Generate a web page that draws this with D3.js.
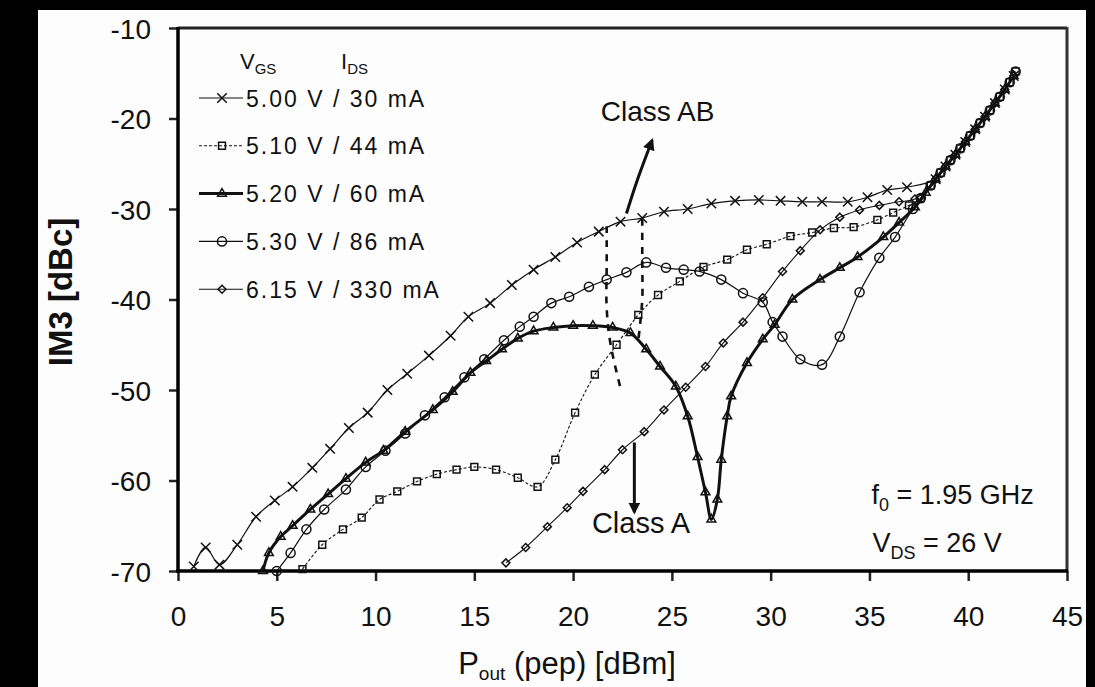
<!DOCTYPE html>
<html><head><meta charset="utf-8">
<script src="https://cdn.jsdelivr.net/npm/d3@7"></script>
<style>
html,body{margin:0;padding:0;background:#000;}
svg{display:block;}
text{font-family:"Liberation Sans",Arial,sans-serif;fill:#111;}
</style></head>
<body>
<svg id="chart" width="1095" height="687"></svg>
<script>
// ---------- data ----------
const xTicks = [0,5,10,15,20,25,30,35,40,45];
const yTicks = [-10,-20,-30,-40,-50,-60,-70];
const seriesNames = ["5.00 V / 30 mA","5.10 V / 44 mA","5.20 V / 60 mA","5.30 V / 86 mA","6.15 V / 330 mA"];

const tailA = [[37.6,-28.8],[38.1,-27.4],[38.6,-26.0],[39.1,-24.6],[39.6,-23.3],[40.1,-21.9],[40.6,-20.5],[41.1,-19.1],[41.6,-17.6],[42.1,-16.0],[42.4,-14.8]];
const tailB = [[37.85,-28.2],[38.35,-26.7],[38.85,-25.3],[39.35,-24.0],[39.85,-22.6],[40.35,-21.2],[40.85,-19.8],[41.35,-18.3],[41.85,-16.8],[42.3,-15.3]];

const s500 = [[0.8,-69.5],[1.4,-67.4],[2.1,-69.3],[3.0,-67.1],[3.95,-64.0],[4.9,-62.2],[5.8,-60.7],[6.8,-58.6],[7.7,-56.5],[8.65,-54.2],[9.6,-52.5],[10.6,-50.0],[11.6,-48.2],[12.7,-46.2],[13.8,-44.0],[14.7,-41.9],[15.8,-40.4],[16.9,-38.4],[18.0,-36.7],[19.1,-35.3],[20.2,-33.7],[21.3,-32.5],[22.4,-31.4],[23.5,-31.0],[24.6,-30.3],[25.8,-30.0],[27.0,-29.4],[28.2,-29.1],[29.4,-29.0],[30.5,-29.1],[31.6,-29.2],[32.6,-29.2],[33.9,-29.2],[34.9,-28.7],[35.9,-27.9],[36.9,-27.6]].concat(tailB.slice(1));
const s510 = [[6.3,-69.8],[7.3,-67.1],[8.35,-65.4],[9.3,-64.1],[10.2,-62.1],[11.1,-61.2],[12.1,-60.1],[13.1,-59.3],[14.1,-58.8],[15.0,-58.5],[16.1,-58.8],[17.2,-59.7],[18.2,-60.7],[19.1,-57.7],[20.1,-52.5],[21.1,-48.3],[22.2,-45.0],[23.3,-41.7],[24.3,-39.5],[25.4,-38.0],[26.6,-36.4],[27.8,-35.6],[28.8,-34.5],[29.8,-33.9],[31.0,-33.0],[32.1,-32.6],[33.2,-32.1],[34.2,-32.0],[35.4,-31.2],[36.2,-30.4],[37.0,-29.6]].concat(tailA);
const s520 = [[4.3,-70.0],[4.6,-68.0],[5.2,-66.2],[5.8,-65.0],[6.7,-63.2],[7.6,-61.5],[8.5,-59.8],[9.5,-58.0],[10.4,-56.7],[11.5,-54.6],[12.9,-52.2],[13.9,-50.2],[14.8,-48.1],[15.6,-46.8],[16.4,-45.5],[17.2,-44.3],[18.0,-43.5],[19.0,-43.1],[20.0,-42.9],[21.0,-42.9],[22.0,-43.1],[22.9,-43.7],[23.7,-45.5],[24.4,-47.4],[25.2,-49.6],[25.8,-52.9],[26.3,-57.4],[26.7,-61.3],[27.0,-64.3],[27.3,-62.1],[27.5,-57.7],[27.8,-52.9],[28.0,-50.7],[28.8,-47.0],[29.6,-44.4],[30.2,-42.8],[31.1,-40.0],[32.5,-37.8],[33.5,-36.5],[34.4,-35.3],[35.7,-33.1],[36.5,-31.5],[37.3,-29.8]].concat(tailB);
const s530 = [[5.0,-70.0],[5.7,-68.0],[6.5,-65.4],[7.4,-63.2],[8.5,-61.0],[9.5,-58.5],[10.5,-56.7],[11.5,-54.8],[12.5,-52.8],[13.5,-50.8],[14.5,-48.6],[15.5,-46.6],[16.5,-44.5],[17.3,-43.0],[18.0,-41.9],[18.9,-40.4],[19.8,-39.7],[20.8,-38.6],[21.7,-37.8],[22.7,-37.0],[23.7,-35.9],[24.7,-36.5],[25.6,-36.7],[26.4,-36.9],[27.5,-37.8],[28.6,-39.3],[29.6,-40.3],[30.1,-42.5],[30.6,-44.1],[31.5,-46.6],[32.6,-47.2],[33.5,-44.1],[34.5,-39.2],[35.5,-35.4],[36.3,-33.1],[37.2,-30.0]].concat(tailA);
const s615 = [[16.6,-69.1],[17.6,-67.4],[18.7,-65.1],[19.7,-63.0],[20.5,-61.2],[21.6,-58.8],[22.5,-56.6],[23.6,-54.6],[24.6,-52.2],[25.7,-49.7],[26.7,-47.4],[27.6,-44.8],[28.6,-42.5],[29.6,-39.8],[30.6,-36.9],[31.5,-34.6],[32.5,-32.3],[33.5,-30.9],[34.5,-30.1],[35.5,-29.6],[36.5,-29.2],[37.3,-28.9]].concat(tailB.slice(1));
const allSeries = [s500,s510,s520,s530,s615];

// annotation anchors in data units
const dashA = [[21.7,-31.9],[21.7,-36],[21.7,-41],[21.9,-45],[22.4,-49.8]];
const dashB = [[23.5,-31.1],[23.5,-36],[23.5,-40],[23.3,-44.5]];
const arrowAB = [[22.7,-30.5],[23.3,-26.5],[24.0,-22.4]];
const arrowA = [[23.1,-55.8],[23.1,-63.5]];

// ---------- drawing ----------
const svg=d3.select("#chart");
svg.append("rect").attr("x",38).attr("y",10).attr("width",1048).attr("height",677).attr("fill","#fdfdfd");

const x=d3.scaleLinear().domain([0,45]).range([178,1067]);
const y=d3.scaleLinear().domain([-70,-10]).range([571,28]);

// axes
const gx=svg.append("g").attr("transform","translate(0,571)")
  .call(d3.axisBottom(x).tickValues(xTicks).tickSize(10).tickPadding(25).tickFormat(d3.format("d")));
const gy=svg.append("g").attr("transform","translate(178,0)")
  .call(d3.axisLeft(y).tickValues(yTicks).tickSize(9).tickPadding(18).tickFormat(d=>d));
[gx,gy].forEach(g=>{
  g.select(".domain").remove();
  g.selectAll(".tick line").attr("stroke","#222").attr("stroke-width",2.5);
  g.selectAll(".tick text").attr("font-size",28).attr("fill","#111").style("font-family","Liberation Sans, Arial, sans-serif");
});
gx.selectAll(".tick text").attr("dy","0.71em");
gy.selectAll(".tick text").attr("dy","0.36em");

// frame
svg.append("line").attr("x1",178).attr("x2",1067).attr("y1",28).attr("y2",28).attr("stroke","#222").attr("stroke-width",3);
svg.append("line").attr("x1",1067).attr("x2",1067).attr("y1",27).attr("y2",572).attr("stroke","#333").attr("stroke-width",3);
svg.append("line").attr("x1",178).attr("x2",178).attr("y1",27).attr("y2",573).attr("stroke","#000").attr("stroke-width",3.5);
svg.append("line").attr("x1",176).attr("x2",1068).attr("y1",571).attr("y2",571).attr("stroke","#000").attr("stroke-width",3.5);

// axis titles
svg.append("text").attr("transform","translate(72,292) rotate(-90)").attr("text-anchor","middle")
  .attr("font-size",33).attr("font-weight","bold").text("IM3 [dBc]");
const xt=svg.append("text").attr("x",567).attr("y",674).attr("text-anchor","middle").attr("font-size",31);
xt.append("tspan").text("P");
xt.append("tspan").attr("font-size",19).attr("dy",6).text("out");
xt.append("tspan").attr("dy",-6).text(" (pep) [dBm]");

// series
const styles=[
  {sym:d3.symbolX,size:60,lw:1.2,dash:null},
  {sym:d3.symbolSquare2,size:60,lw:1.1,dash:"3,2"},
  {sym:d3.symbolTriangle2,size:55,lw:3,dash:null},
  {sym:d3.symbolCircle,size:65,lw:1.2,dash:null},
  {sym:d3.symbolDiamond2,size:40,lw:1.1,dash:null}
];
const line=d3.line().x(d=>x(d[0])).y(d=>y(d[1])).curve(d3.curveCatmullRom.alpha(0.5));
const plot=svg.append("g");
allSeries.forEach((s,i)=>{
  const st=styles[i];
  plot.append("path").attr("d",line(s)).attr("fill","none").attr("stroke","#111")
    .attr("stroke-width",st.lw).attr("stroke-dasharray",st.dash);
});
allSeries.forEach((s,i)=>{
  const st=styles[i];
  plot.append("g").selectAll("path").data(s).join("path")
    .attr("transform",d=>`translate(${x(d[0])},${y(d[1])})`)
    .attr("d",d3.symbol(st.sym,st.size))
    .attr("fill","none").attr("stroke","#111").attr("stroke-width",1.5);
});

// dashed annotation lines
const lin=d3.line().x(d=>x(d[0])).y(d=>y(d[1])).curve(d3.curveCatmullRom);
[dashA,dashB].forEach(dl=>{
  svg.append("path").attr("d",lin(dl)).attr("fill","none").attr("stroke","#111")
    .attr("stroke-width",2.6).attr("stroke-dasharray","7,7");
});

// arrows
const defs=svg.append("defs");
defs.append("marker").attr("id","ah").attr("viewBox","0 0 10 10").attr("refX",8).attr("refY",5)
  .attr("markerWidth",4).attr("markerHeight",4).attr("orient","auto")
  .append("path").attr("d","M0,0L10,5L0,10z").attr("fill","#111");
svg.append("path").attr("d",lin(arrowAB)).attr("fill","none").attr("stroke","#111").attr("stroke-width",3).attr("marker-end","url(#ah)");
svg.append("path").attr("d",lin(arrowA)).attr("fill","none").attr("stroke","#111").attr("stroke-width",3).attr("marker-end","url(#ah)");

svg.append("text").attr("x",x(21.4)).attr("y",y(-20.3)).attr("font-size",28).text("Class AB");
svg.append("text").attr("x",x(20.95)).attr("y",y(-65.8)).attr("font-size",29).text("Class A");

const f0=svg.append("text").attr("x",x(35.1)).attr("y",y(-62.6)).attr("font-size",27);
f0.append("tspan").text("f");
f0.append("tspan").attr("font-size",18).attr("dy",7).text("0");
f0.append("tspan").attr("dy",-7).text(" = 1.95 GHz");
const vds=svg.append("text").attr("x",x(35.15)).attr("y",y(-67.9)).attr("font-size",27);
vds.append("tspan").text("V");
vds.append("tspan").attr("font-size",18).attr("dy",7).text("DS");
vds.append("tspan").attr("dy",-7).text(" = 26 V");

// legend
const lg=svg.append("g");
const hdr1=lg.append("text").attr("x",240).attr("y",69).attr("font-size",22);
hdr1.append("tspan").text("V");
hdr1.append("tspan").attr("font-size",15).attr("dy",5).text("GS");
const hdr2=lg.append("text").attr("x",341).attr("y",69).attr("font-size",22);
hdr2.append("tspan").text("I");
hdr2.append("tspan").attr("font-size",15).attr("dy",5).text("DS");
seriesNames.forEach((nm,i)=>{
  const st=styles[i];
  const cy=98+i*47.8;
  lg.append("line").attr("x1",199).attr("x2",243).attr("y1",cy).attr("y2",cy)
    .attr("stroke","#111").attr("stroke-width",st.lw).attr("stroke-dasharray",st.dash);
  lg.append("path").attr("transform",`translate(222,${cy})`).attr("d",d3.symbol(st.sym,st.size))
    .attr("fill","none").attr("stroke","#111").attr("stroke-width",1.5);
  lg.append("text").attr("x",246).attr("y",cy+8.5).attr("font-size",23).attr("letter-spacing",2.0).text(nm);
});

// outer black border (clips overflowing text)
svg.append("rect").attr("x",1086).attr("y",0).attr("width",9).attr("height",687).attr("fill","#000");
svg.append("rect").attr("x",0).attr("y",0).attr("width",38).attr("height",687).attr("fill","#000");
svg.append("rect").attr("x",0).attr("y",0).attr("width",1095).attr("height",10).attr("fill","#000");
</script>
</body></html>
